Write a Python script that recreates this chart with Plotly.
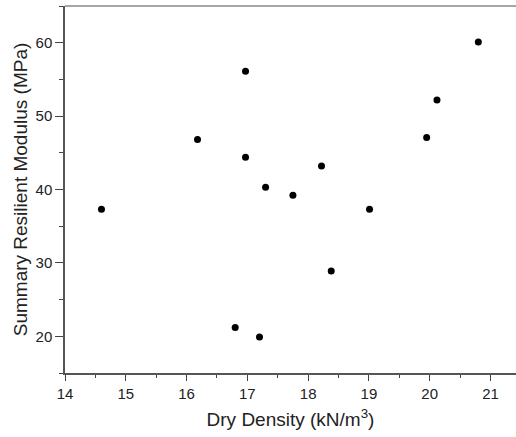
import plotly.graph_objects as go

dry_density = [14.60, 16.18, 16.80, 16.97, 16.97, 17.20, 17.30, 17.75, 18.22, 18.38, 19.01, 19.95, 20.12, 20.80]
resilient_modulus = [37.3, 46.8, 21.2, 56.1, 44.4, 19.9, 40.3, 39.2, 43.2, 28.9, 37.3, 47.1, 52.2, 60.1]

fig = go.Figure()
fig.add_trace(go.Scatter(
    x=dry_density, y=resilient_modulus, mode="markers",
    marker=dict(color="black", size=7), showlegend=False,
))

font = "Liberation Sans, Arial, sans-serif"
fig.update_layout(
    width=516, height=437,
    margin=dict(l=65, r=0, t=6, b=64),
    plot_bgcolor="white", paper_bgcolor="white",
    font=dict(family=font, color="#222222"),
)
# top frame line
fig.add_shape(type="line", xref="paper", yref="paper", x0=0, x1=1, y0=1, y1=1,
              line=dict(color="#888888", width=1.5))
fig.update_xaxes(
    range=[14, 21.42], tickmode="array", tickvals=[14, 15, 16, 17, 18, 19, 20, 21],
    ticks="outside", ticklen=6, tickwidth=1.2, tickcolor="#444444",
    minor=dict(ticks="outside", ticklen=3, tickwidth=1, tickcolor="#444444", dtick=0.5),
    showline=True, linecolor="#555555", linewidth=1.5,
    showgrid=False, zeroline=False,
    tickfont=dict(size=15, family=font, color="#222222"),
    title=dict(text="Dry Density (kN/m<sup>3</sup>)", font=dict(size=19, family=font, color="#222222"), standoff=12),
)
fig.update_yaxes(
    range=[15, 65], tickmode="array", tickvals=[20, 30, 40, 50, 60],
    ticks="outside", ticklen=8, tickwidth=1.2, tickcolor="#444444",
    minor=dict(ticks="outside", ticklen=4, tickwidth=1, tickcolor="#444444", dtick=5),
    showline=True, linecolor="#555555", linewidth=1.5,
    showgrid=False, zeroline=False,
    tickfont=dict(size=15, family=font, color="#222222"),
    title=dict(text="Summary Resilient Modulus (MPa)", font=dict(size=19, family=font, color="#222222"), standoff=3),
)

fig.write_html("out.html")
